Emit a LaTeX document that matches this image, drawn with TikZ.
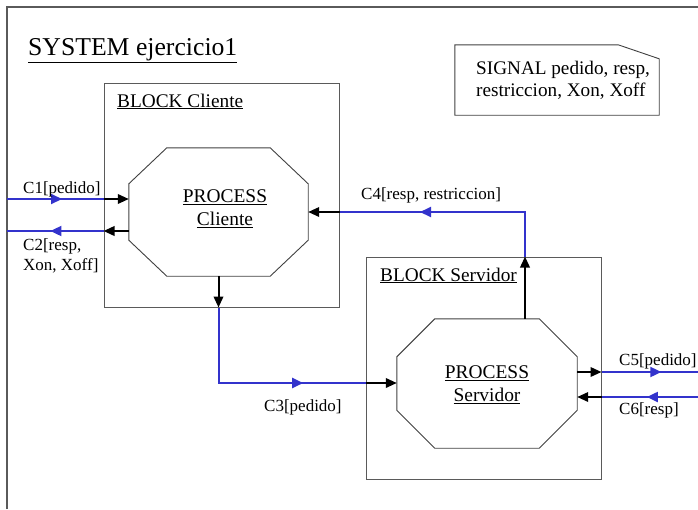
\documentclass[tikz,border=0pt]{standalone}
\usepackage{fontspec}
\setmainfont{Liberation Serif}
\usetikzlibrary{arrows.meta,decorations.markings,calc}
\definecolor{chanblue}{RGB}{51,51,204}
\definecolor{framegray}{RGB}{90,90,90}

% octagon outline drawn inside the bounding box of a node: node, x cut, y cut
\newcommand\octpath[3]{%
  \draw[octline] ([xshift=#2]#1.north west) -- ([xshift=-#2]#1.north east)
    -- ([yshift=-#3]#1.north east) -- ([yshift=#3]#1.south east)
    -- ([xshift=-#2]#1.south east) -- ([xshift=#2]#1.south west)
    -- ([yshift=#3]#1.south west) -- ([yshift=-#3]#1.north west) -- cycle;}

\tikzset{
  sysframe/.style={draw=framegray, line width=1.2pt},
  blockbox/.style={draw=framegray, line width=1pt, rectangle, inner sep=0pt},
  octbox/.style={draw=none, rectangle, inner sep=0pt},
  octline/.style={draw=black!75, line width=0.9pt},
  sig/.style={black, line width=2pt, -{Triangle[length=11pt,width=9.5pt]}},
  chan/.style={color=chanblue, line width=2pt},
  midarrow/.style={postaction={decorate}, decoration={markings,
      mark=at position #1 with {\arrow{Triangle[length=11pt,width=10pt]}}}},
  chanlabel/.style={inner sep=0pt, anchor=west, font=\fontsize{17pt}{20pt}\selectfont, align=left},
  blocklabel/.style={inner sep=0pt, anchor=base west, font=\fontsize{19.3pt}{23pt}\selectfont},
  proclabel/.style={inner sep=0pt, align=center, font=\fontsize{19.4pt}{23pt}\selectfont},
}

\begin{document}
\begin{tikzpicture}[x=1pt,y=-1pt]
\useasboundingbox (0,0) rectangle (698,509);

% system frame (continues past the right and bottom edges)
\draw[sysframe] (7,509) -- (7,7) -- (698,7);
\node[blocklabel, anchor=base west, font=\fontsize{25.7pt}{30pt}\selectfont] (title) at (28,55) {\underline{SYSTEM ejercicio1}};

% signal declaration
\node[octbox, minimum width=204pt, minimum height=70pt] (sigbox) at (557,80) {};
\draw[octline] (sigbox.north west) -- ([xshift=-41pt]sigbox.north east)
  -- ([yshift=-14pt]sigbox.north east) -- (sigbox.south east) -- (sigbox.south west) -- cycle;
\node[inner sep=0pt, anchor=west, align=left, font=\fontsize{19.2pt}{22pt}\selectfont] (sigtext) at (476,80)
  {SIGNAL pedido, resp,\\restriccion, Xon, Xoff};

% blocks
\node[blockbox, minimum width=235pt, minimum height=224pt] (bc) at (221.5,195) {};
\node[blocklabel] (bclabel) at (117,107) {\underline{BLOCK Cliente}};
\node[blockbox, minimum width=235pt, minimum height=222pt] (bs) at (483.5,368) {};
\node[blocklabel] (bslabel) at (380,281) {\underline{BLOCK Servidor}};

% processes
\node[octbox, minimum width=179pt, minimum height=128pt] (pc) at (218.5,212) {};
\octpath{pc}{38pt}{36pt}
\node[proclabel] (pctext) at (225,208.5) {\underline{PROCESS}\\\underline{Cliente}};
\node[octbox, minimum width=180pt, minimum height=129pt] (ps) at (487,383.5) {};
\octpath{ps}{38pt}{38pt}
\node[proclabel] (pstext) at (487,384.5) {\underline{PROCESS}\\\underline{Servidor}};

% C1
\coordinate (c1in) at (7,199);
\draw[chan, midarrow=0.57] (c1in) -- (c1in -| bc.west);
\draw[sig] (c1in -| bc.west) -- (c1in -| pc.west);
\node[chanlabel] (c1l) at (23,189) {C1[pedido]};

% C2
\coordinate (c2out) at (7,231);
\draw[sig] (c2out -| pc.west) -- (c2out -| bc.west);
\draw[chan, midarrow=0.55] (c2out -| bc.west) -- (c2out);
\node[chanlabel, anchor=north west] (c2l) at (23,238) {C2[resp,\\Xon, Xoff]};

% C3
\coordinate (c3turn) at (218.5,383);
\draw[sig] (pc.south) -- (pc.south |- bc.south);
\draw[chan, midarrow=0.72] (pc.south |- bc.south) -- (c3turn) -- (c3turn -| bs.west);
\draw[sig] (c3turn -| bs.west) -- (c3turn -| ps.west);
\node[chanlabel] (c3l) at (264,407) {C3[pedido]};

% C4
\coordinate (c4turn) at (525,212);
\draw[sig] (c4turn |- ps.north) -- (c4turn |- bs.north);
\draw[chan, midarrow=0.65] (c4turn |- bs.north) -- (c4turn) -- (c4turn -| bc.east);
\draw[sig] (c4turn -| bc.east) -- (c4turn -| pc.east);
\node[chanlabel] (c4l) at (361,195) {C4[resp, restriccion]};

% C5
\coordinate (c5out) at (698,372);
\draw[sig] (c5out -| ps.east) -- (c5out -| bs.east);
\draw[chan, midarrow=0.62] (c5out -| bs.east) -- (c5out);
\node[chanlabel] (c5l) at (619,361.5) {C5[pedido]};

% C6
\coordinate (c6in) at (698,397);
\draw[chan, midarrow=0.53] (c6in) -- (c6in -| bs.east);
\draw[sig] (c6in -| bs.east) -- (c6in -| ps.east);
\node[chanlabel] (c6l) at (619,410) {C6[resp]};
\end{tikzpicture}
\end{document}
